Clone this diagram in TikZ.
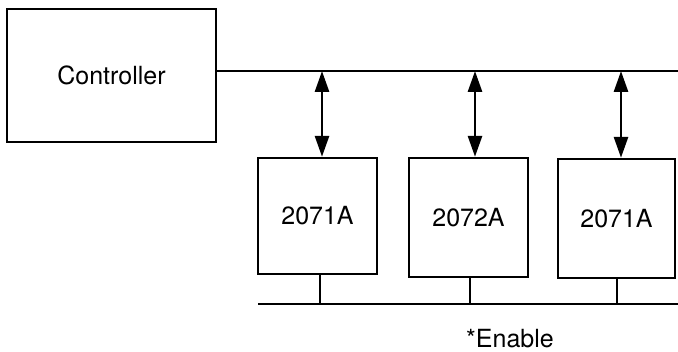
\documentclass[tikz,border=0pt]{standalone}
\usepackage{fontspec}
\setmainfont{TeX Gyre Heros}
\usetikzlibrary{arrows.meta}
\begin{document}
\begin{tikzpicture}[x=1pt,y=-1pt,
  blk/.style={draw, line width=2.4pt, inner sep=0pt, font=\fontsize{25}{30}\selectfont},
  bus/.style={line width=2pt},
  biarrow/.style={line width=2.8pt, {Triangle[length=21pt,width=14pt]}-{Triangle[length=21pt,width=14pt]}},
  lbl/.style={font=\fontsize{25}{30}\selectfont, inner sep=0pt}]
\useasboundingbox (0,0) rectangle (678,352);
\node[blk, minimum width=209pt, minimum height=133pt] (ctl) at (111.5,75.5) {Controller};
\node[blk, minimum width=119pt, minimum height=116pt] (m1) at (317.5,216) {2071A};
\node[blk, minimum width=119pt, minimum height=119pt] (m2) at (468.5,217.5) {2072A};
\node[blk, minimum width=117pt, minimum height=119pt] (m3) at (616.5,218.5) {2071A};
% top bus
\coordinate (busend) at (678,71);
\draw[bus] (ctl.east |- 0,71) -- (busend);
\coordinate (t1) at (322,71);
\coordinate (t2) at (475,71);
\coordinate (t3) at (621,71);
\draw[biarrow] (t1) -- (t1 |- m1.north);
\draw[biarrow] (t2) -- (t2 |- m2.north);
\draw[biarrow] (t3) -- (t3 |- m3.north);
% enable line
\coordinate (es) at (258,304);
\coordinate (ee) at (678,304);
\draw[bus] (es) -- (ee);
\coordinate (s1) at (320,304);
\coordinate (s2) at (470,304);
\coordinate (s3) at (617,304);
\draw[bus] (s1 |- m1.south) -- (s1);
\draw[bus] (s2 |- m2.south) -- (s2);
\draw[bus] (s3 |- m3.south) -- (s3);
\node[lbl, anchor=base] (en) at (510,348) {*Enable};
\end{tikzpicture}
\end{document}
